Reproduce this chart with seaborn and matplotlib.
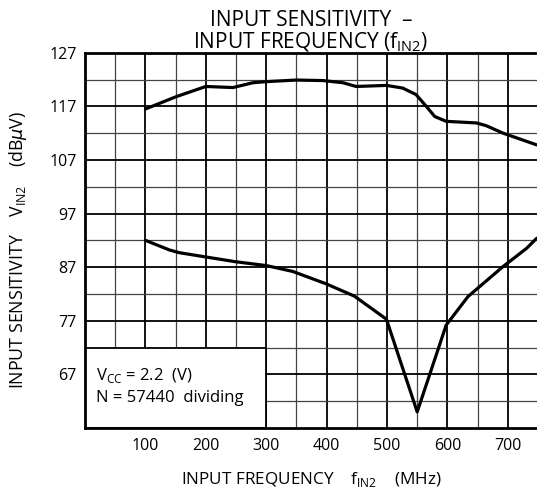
import matplotlib
matplotlib.use("Agg")
import matplotlib.pyplot as plt
import numpy as np
import pandas as pd
import seaborn as sns
from matplotlib.patches import Rectangle

# curve data (MHz, dBuV)
upper_freq = [100, 151, 200, 245, 278, 300, 350, 394, 427, 449, 499, 526, 548, 565, 579, 598, 648, 664, 692, 748]
upper_sens = [116.5, 118.8, 120.7, 120.5, 121.4, 121.6, 121.9, 121.8, 121.4, 120.7, 120.9, 120.4, 119.2, 117.0, 115.1, 114.2, 113.9, 113.4, 112.0, 109.8]
lower_freq = [100, 140, 156, 200, 250, 300, 344, 399, 446, 499, 550, 598, 634, 692, 731, 748]
lower_sens = [92.0, 90.2, 89.7, 88.9, 88.0, 87.3, 86.2, 83.9, 81.6, 77.3, 60.0, 76.2, 81.5, 87.1, 90.5, 92.4]
y_ticks = [67, 77, 87, 97, 107, 117, 127]
x_ticks = [100, 200, 300, 400, 500, 600, 700]

df_up = pd.DataFrame({"freq": upper_freq, "sens": upper_sens})
df_lo = pd.DataFrame({"freq": lower_freq, "sens": lower_sens})

sns.set_style("white", {"text.color": "black", "axes.labelcolor": "black",
                        "xtick.color": "black", "ytick.color": "black"})
plt.rcParams['font.family'] = ['Open Sans', 'DejaVu Sans']
plt.rcParams['mathtext.fontset'] = 'dejavusans'

fig = plt.figure(figsize=(5.37, 4.93), dpi=100)
ax = fig.add_axes([85 / 537, 1 - 428 / 493, 453 / 537, (428 - 52.7) / 493])

sns.lineplot(df_up, x="freq", y="sens", color="black", lw=2.3, ax=ax, zorder=4)
sns.lineplot(df_lo, x="freq", y="sens", color="black", lw=2.3, ax=ax, zorder=4)

ax.set_xlim(0, 750)
ax.set_ylim(57, 127)
ax.set_xticks(x_ticks)
ax.set_xticks(np.arange(50, 750, 100), minor=True)
ax.set_yticks(y_ticks)
ax.set_yticks(np.arange(62, 127, 10), minor=True)
ax.tick_params(axis="x", which="both", length=0, labelsize=11.5, pad=7)
ax.tick_params(axis="y", which="major", length=4, width=1.3, direction="out", labelsize=11.5, pad=2)
ax.tick_params(axis="y", which="minor", length=0)
ax.set_axisbelow(True)
ax.grid(which="major", color="black", lw=1.3)
ax.grid(which="minor", color="#444444", lw=0.9)

for s in ["left", "top", "bottom"]:
    ax.spines[s].set_linewidth(2)
    ax.spines[s].set_color("black")
ax.spines["right"].set_visible(False)

# condition box
ax.add_patch(Rectangle((0, 57), 300, 15, facecolor="white", edgecolor="black", lw=1.3, zorder=2))
ax.text(19, 66.8, r"V$_{\mathregular{CC}}$ = 2.2  (V)", fontsize=12, va="center", ha="left", zorder=3)
ax.text(19, 62.6, "N = 57440  dividing", fontsize=12, va="center", ha="left", zorder=3)

ax.set_xlabel(r"INPUT FREQUENCY    f$_{\mathregular{IN2}}$    (MHz)", fontsize=12.3, labelpad=12)
ax.set_ylabel(r"INPUT SENSITIVITY    V$_{\mathregular{IN2}}$    (dB$\mu$V)", fontsize=12.8)
ax.yaxis.set_label_coords(-(85 - 29) / 453, (428 - 250) / 375.3)
ax.set_title("INPUT SENSITIVITY  \u2013\nINPUT FREQUENCY (f$_{\\mathregular{IN2}}$)",
             fontsize=15, linespacing=1.0, pad=3, x=(311 - 85) / 453)

fig.savefig("out.png", dpi=100)
